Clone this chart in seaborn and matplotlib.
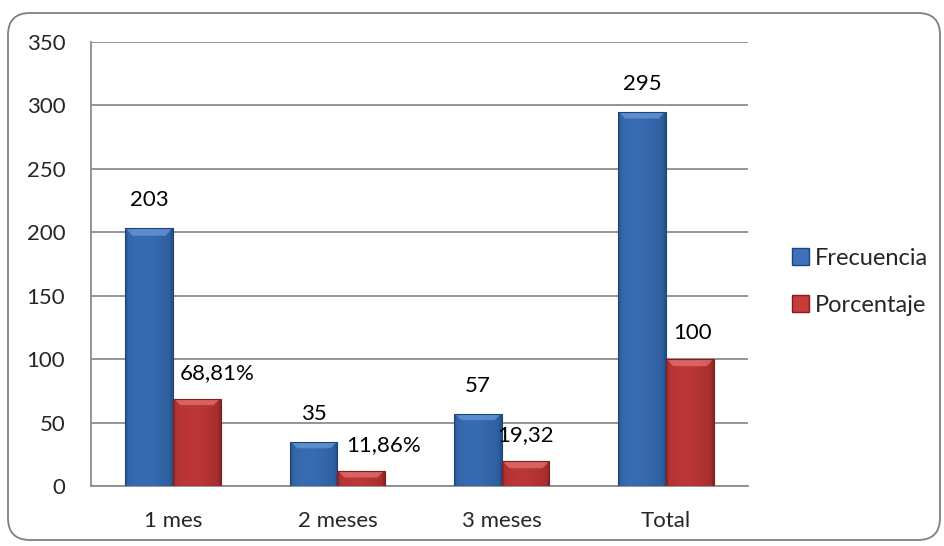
import numpy as np
import pandas as pd
import matplotlib
matplotlib.use("Agg")
import matplotlib.pyplot as plt
import seaborn as sns
from matplotlib.patches import FancyBboxPatch, Patch
from matplotlib.colors import to_rgb
import matplotlib.transforms as mtransforms

periodos = ["1 mes", "2 meses", "3 meses", "Total"]
frecuencia = [203, 35, 57, 295]
porcentaje = [68.81, 11.86, 19.32, 100]
etiquetas_frec = ["203", "35", "57", "295"]
etiquetas_porc = ["68,81%", "11,86%", "19,32", "100"]
series = ["Frecuencia", "Porcentaje"]
yticks = [0, 50, 100, 150, 200, 250, 300, 350]

# horizontal shift (pixels) of the percentage labels
desplaz_porc = [20, 22, 0, 3]

AZUL = "#3C72BC"
ROJO = "#C73B3B"

df = pd.DataFrame({
    "Periodo": periodos * 2,
    "Valor": frecuencia + porcentaje,
    "Serie": [series[0]] * 4 + [series[1]] * 4,
})

sns.set_theme(style="white")
plt.rcParams["font.family"] = ["Lato", "DejaVu Sans"]
FS = 16

fig = plt.figure(figsize=(9.44, 5.46), dpi=100)
W, H = 944, 546

# rounded chart-area frame (pixel coordinates)
frame = FancyBboxPatch((8, 6), 932, 527,
                       boxstyle="round,pad=0,rounding_size=22",
                       transform=mtransforms.IdentityTransform(),
                       facecolor="white", edgecolor="#7f7f7f",
                       linewidth=1.3, zorder=-5)
fig.patches.append(frame)

ax = fig.add_axes([91 / W, 60 / H, 657 / W, 444 / H])
ax.set_facecolor("none")

sns.barplot(data=df, x="Periodo", y="Valor", hue="Serie",
            palette=[AZUL, ROJO], width=0.58, gap=0, ax=ax,
            edgecolor="none", linewidth=0, saturation=1, legend=False,
            zorder=3)

ax.set_xlim(-0.5, 3.5)
ax.set_ylim(0, 350)

px_per_unit = 444 / 350.0
bars = [p for p in ax.patches]
colores = [AZUL] * 4 + [ROJO] * 4
oscuros = ["#1F4578"] * 4 + ["#7E1E1E"] * 4
claros = ["#6FA0E0"] * 4 + ["#EE7A7A"] * 4
for p, c, dk, lt in zip(bars, colores, oscuros, claros):
    x0, y0 = p.get_x(), p.get_y()
    w, h = p.get_width(), p.get_height()
    if h <= 0:
        continue
    b = np.array(to_rgb(c))
    d = np.array(to_rgb(dk))
    l = np.array(to_rgb(lt))
    nx, ny = 60, 300
    xs = np.linspace(0, 1, nx)
    # horizontal profile: dark edges, slightly lighter left-centre
    prof = 0.75 * np.exp(-((xs - 0.4) / 0.55) ** 2)
    row = d[None, :] * (1 - prof[:, None]) + b[None, :] * prof[:, None]
    row = row * 0.6 + b[None, :] * 0.4
    img = np.repeat(row[None, :, :], ny, axis=0)
    # top bevel highlight, trapezoid-shaped
    bev_px = 7.0
    bar_px_w = w * 657 / 4.0
    frac = min(bev_px / (h * px_per_unit), 0.5)
    ys = np.linspace(1, 0, ny)
    for i, yy in enumerate(ys):
        depth = 1 - yy
        if depth < frac:
            inset = (depth / frac) * bev_px / bar_px_w
            mask = (xs >= inset) & (xs <= 1 - inset)
            img[i, mask] = img[i, mask] * 0.35 + l * 0.65
    # side shading strips
    edge = int(nx * 0.06)
    img[:, :edge] = img[:, :edge] * 0.6 + d * 0.4
    img[:, -edge:] = img[:, -edge:] * 0.5 + d * 0.5
    im = ax.imshow(np.clip(img, 0, 1), extent=[x0, x0 + w, y0, y0 + h],
                   aspect="auto", zorder=3.5, interpolation="bilinear")
    im.set_clip_path(p)
    ax.add_patch(plt.Rectangle((x0, y0), w, h, fill=False,
                               edgecolor=dk, linewidth=0.8, zorder=3.6))

ax.set_xlim(-0.5, 3.5)
ax.set_ylim(0, 350)

# value labels
for i, p in enumerate(bars):
    h = p.get_height()
    xc = p.get_x() + p.get_width() / 2
    if i < 4:
        txt, dx, dy = etiquetas_frec[i], 0, 28
    else:
        j = i - 4
        txt, dx, dy = etiquetas_porc[j], desplaz_porc[j], 26
    off = mtransforms.offset_copy(ax.transData, fig=fig, x=dx * 0.72,
                                  y=dy * 0.72, units="points")
    ax.text(xc, h, txt, transform=off, ha="center", va="center",
            fontsize=FS, color="black", zorder=5)

ax.set_yticks(yticks)
ax.yaxis.grid(True, color="#8c8c8c", linewidth=1.3, zorder=1)
ax.set_axisbelow(True)
for s in ["top", "right"]:
    ax.spines[s].set_visible(False)
for s in ["left", "bottom"]:
    ax.spines[s].set_color("#8c8c8c")
    ax.spines[s].set_linewidth(1.3)
ax.tick_params(axis="y", length=0, pad=18.5, labelsize=FS)
ax.tick_params(axis="x", length=0, pad=18, labelsize=FS)
ax.set_xlabel("")
ax.set_ylabel("")

handles = [Patch(facecolor=AZUL, edgecolor="#1F4578"),
           Patch(facecolor=ROJO, edgecolor="#7E1E1E")]
fig.legend(handles, series, loc="center left",
           bbox_to_anchor=(771 / W, 1 - 282 / H), frameon=False,
           fontsize=17, handlelength=0.7, handleheight=0.7,
           handletextpad=0.25, labelspacing=1.1)

fig.savefig("out.png", dpi=100)
